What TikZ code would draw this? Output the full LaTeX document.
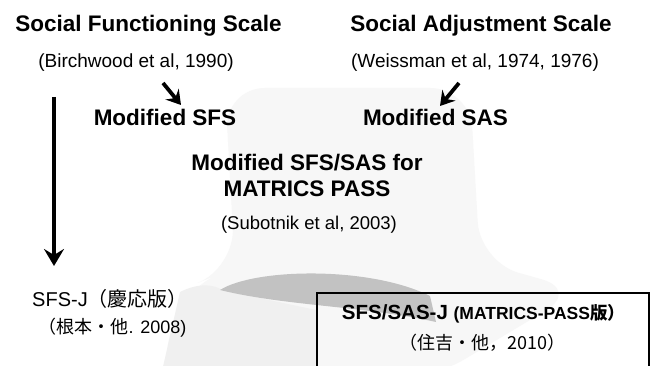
\documentclass[tikz,border=0pt]{standalone}
\usepackage{fontspec}
\setmainfont{Liberation Sans}
\newfontfamily\jp{Noto Sans CJK JP}
\usetikzlibrary{arrows.meta}
\tikzset{
  txt/.style={inner sep=0pt, outer sep=0pt, anchor=center},
  title/.style={txt, font=\fontsize{22.5}{27}\selectfont\bfseries},
  cite/.style={txt, font=\fontsize{19}{23}\selectfont},
  arr/.style={line width=3.8pt, -{Stealth[length=14pt, width=17pt, inset=5pt]}},
  jbox/.style={draw, line width=1.6pt, minimum width=332pt, minimum height=100pt, anchor=north west, inner sep=0pt},
}
\begin{document}
\begin{tikzpicture}[x=1pt, y=-1pt]
\useasboundingbox (0,0) rectangle (659,366);
\clip (0,0) rectangle (659,366);
\fill[white] (0,0) rectangle (659,366);

% faint backdrop and darker swoosh behind the lower block
\fill[black!3, rounded corners=40pt] (225,88) -- (470,88) -- (480,262) -- (580,290) -- (430,380) -- (160,380) -- (180,290) -- (235,268) -- cycle;
\fill[black!6] (180,292) .. controls (200,282) and (215,285) .. (222,290) -- (316,310) -- (316,380) -- (160,380) -- cycle;
\fill[black!24] (220,290) .. controls (255,268) and (370,266) .. (430,296)
  -- (436,322) .. controls (365,306) and (285,306) .. (220,290);

% top row
\node[title] (sfs) at (148.5,26) {Social Functioning Scale};
\node[title] (sas) at (481,26) {Social Adjustment Scale};
\node[cite] (bw) at (136,63) {(Birchwood et al, 1990)};
\node[cite] (ws) at (475,63) {(Weissman et al, 1974, 1976)};

% modified versions
\node[title] (msfs) at (165,117.5) {Modified SFS};
\node[title] (msas) at (435.5,117.5) {Modified SAS};
\node[title, align=center, font=\fontsize{22.5}{26}\selectfont\bfseries] (mp) at (307,175.5) {Modified SFS/SAS for\\MATRICS PASS};
\node[cite, font=\fontsize{18.5}{22}\selectfont] (sub) at (309,225) {(Subotnik et al, 2003)};

% Japanese versions
\node[cite, font=\fontsize{20}{24}\selectfont] (sfsj) at (110,299) {SFS-J{\jp（慶応版）}};
\node[cite, font=\fontsize{18}{22}\selectfont] (nem) at (112.5,328) {{\jp（根本・他}. 2008)};
\node[jbox] (jb) at (316,292) {};
\node[txt, font=\bfseries] (jt) at (483.5,313.5) {\fontsize{20.5}{24}\selectfont SFS/SAS-J \fontsize{17.5}{20}\selectfont(MATRICS-PASS{\jp 版）}};
\node[txt, font=\fontsize{18}{22}\selectfont\jp] (sum) at (482.5,342.5) {（住吉・他，2010）};

% connectors
\coordinate (a1) at (163,83);
\coordinate (b1) at (181,105);
\coordinate (a2) at (459,83);
\coordinate (b2) at (440,106);
\coordinate (a3) at (54,97);
\coordinate (b3) at (54,266);
\draw[arr] (a1) -- (b1);
\draw[arr] (a2) -- (b2);
\draw[arr, line width=4pt, -{Stealth[length=17pt, width=20pt, inset=6pt]}] (a3) -- (b3);
\end{tikzpicture}
\end{document}
